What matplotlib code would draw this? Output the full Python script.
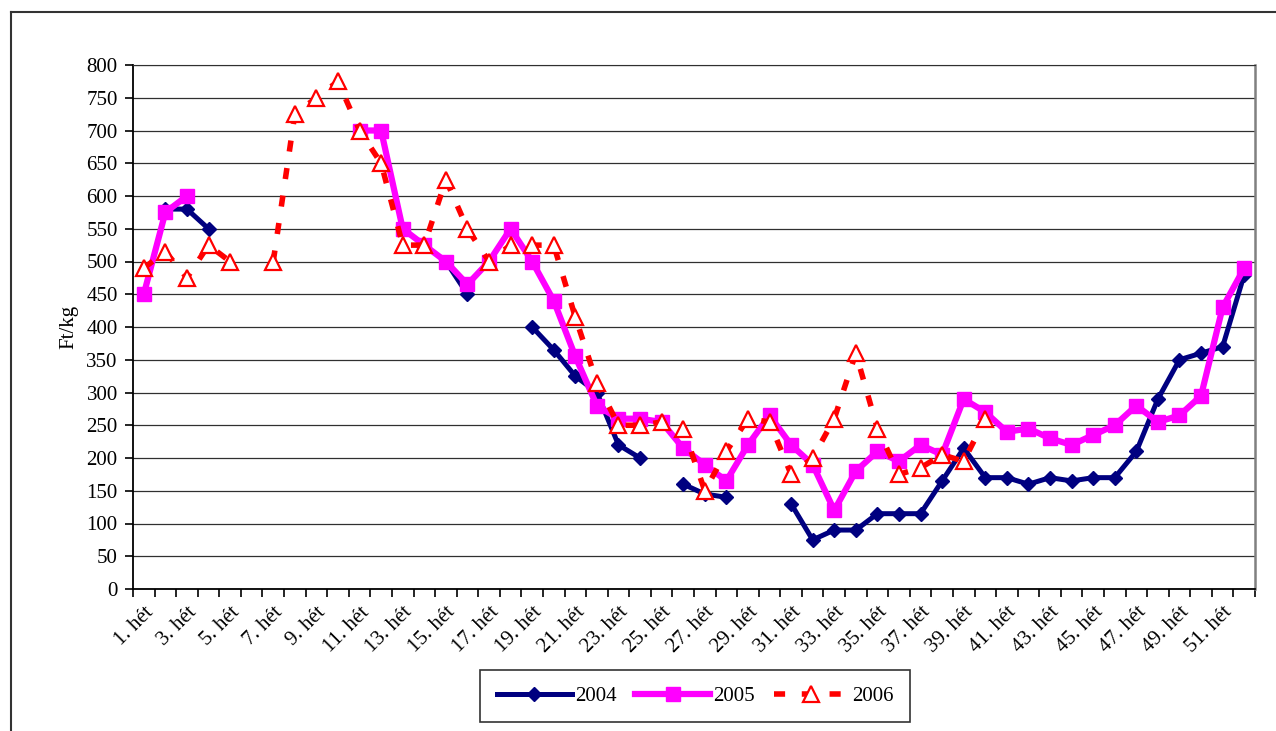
import numpy as np
import matplotlib
matplotlib.use("Agg")
import matplotlib.pyplot as plt
from matplotlib.lines import Line2D

plt.rcParams['font.family'] = ['Liberation Serif', 'DejaVu Serif']

nan = np.nan
weeks = np.arange(1, 53)
week_labels = ["%d. hét" % w if w % 2 == 1 else "" for w in weeks]

y2004 = np.array([nan, 580, 580, 550, nan, nan, nan, nan, nan, nan,
                  nan, nan, nan, nan, 500, 450, nan, nan, 400, 365,
                  325, 300, 220, 200, nan, 160, 145, 140, nan, nan,
                  130, 75, 90, 90, 115, 115, 115, 165, 215, 170,
                  170, 160, 170, 165, 170, 170, 210, 290, 350, 360,
                  370, 480], dtype=float)

y2005 = np.array([450, 575, 600, nan, nan, nan, nan, nan, nan, nan,
                  700, 700, 550, 525, 500, 465, 500, 550, 500, 440,
                  355, 280, 260, 260, 255, 215, 190, 165, 220, 265,
                  220, 190, 120, 180, 210, 195, 220, 205, 290, 270,
                  240, 245, 230, 220, 235, 250, 280, 255, 265, 295,
                  430, 490], dtype=float)

y2006 = np.array([490, 515, 475, 525, 500, nan, 500, 725, 750, 775,
                  700, 650, 525, 525, 625, 550, 500, 525, 525, 525,
                  415, 315, 250, 250, 255, 245, 150, 210, 260, 255,
                  175, 200, 260, 360, 245, 175, 185, 205, 195, 260,
                  nan, nan, nan, nan, nan, nan, nan, nan, nan, nan,
                  nan, nan], dtype=float)

W, H = 1276, 731
fs = 15
fig = plt.figure(figsize=(W / 100, H / 100), dpi=100)
ax = fig.add_axes([133 / W, 1 - 589 / H, 1122 / W, 524 / H])

ax.plot(weeks, y2004, color='#000080', lw=3.6, marker='D', ms=7.5,
        label='2004', zorder=3)
ax.plot(weeks, y2005, color='#FF00FF', lw=4.5, marker='s', ms=10,
        label='2005', zorder=4)
ax.plot(weeks, y2006, color='#FF0000', lw=4, linestyle=(0, (2, 3)),
        marker='^', ms=11, mfc='white', mec='#FF0000', mew=1.6,
        label='2006', zorder=5)

ax.set_xlim(0.5, 52.5)
ax.set_ylim(0, 800)
ax.set_yticks(np.arange(0, 801, 50))
ax.yaxis.grid(True, color='#303030', lw=0.9)
ax.set_axisbelow(True)

ax.set_xticks(np.arange(0.5, 53, 1))
ax.set_xticklabels([])
ax.set_xticks(weeks, minor=True)
ax.set_xticklabels(week_labels, minor=True, rotation=45, ha='right',
                   rotation_mode='anchor', fontsize=fs)
ax.tick_params(axis='x', which='minor', length=0, pad=10)
ax.tick_params(axis='x', which='major', length=6, width=1.2, direction='out')
ax.tick_params(axis='y', length=6, width=1.2, labelsize=fs, pad=5)

ax.set_ylabel('Ft/kg', fontsize=fs, labelpad=6)

for s in ['left', 'bottom']:
    ax.spines[s].set_linewidth(1.3)
    ax.spines[s].set_color('black')
ax.spines['top'].set_color('#303030')
ax.spines['right'].set_color('#808080')
ax.spines['right'].set_linewidth(1.8)

leg = fig.legend(loc='center', bbox_to_anchor=(695 / W, 1 - 696 / H),
                 ncol=3, fontsize=fs, frameon=True, fancybox=False,
                 edgecolor='black', handlelength=3.6, columnspacing=0.9,
                 handletextpad=0.15, borderpad=0.8, borderaxespad=0)
leg.get_frame().set_linewidth(1.2)

# outer chart frame (cut off at right and bottom)
fig.add_artist(Line2D([11 / W, 11 / W], [0, 1 - 12 / H], color='#333333', lw=1.5))
fig.add_artist(Line2D([11 / W, 1], [1 - 12 / H, 1 - 12 / H], color='#333333', lw=1.5))

fig.savefig('out.png', dpi=100)
